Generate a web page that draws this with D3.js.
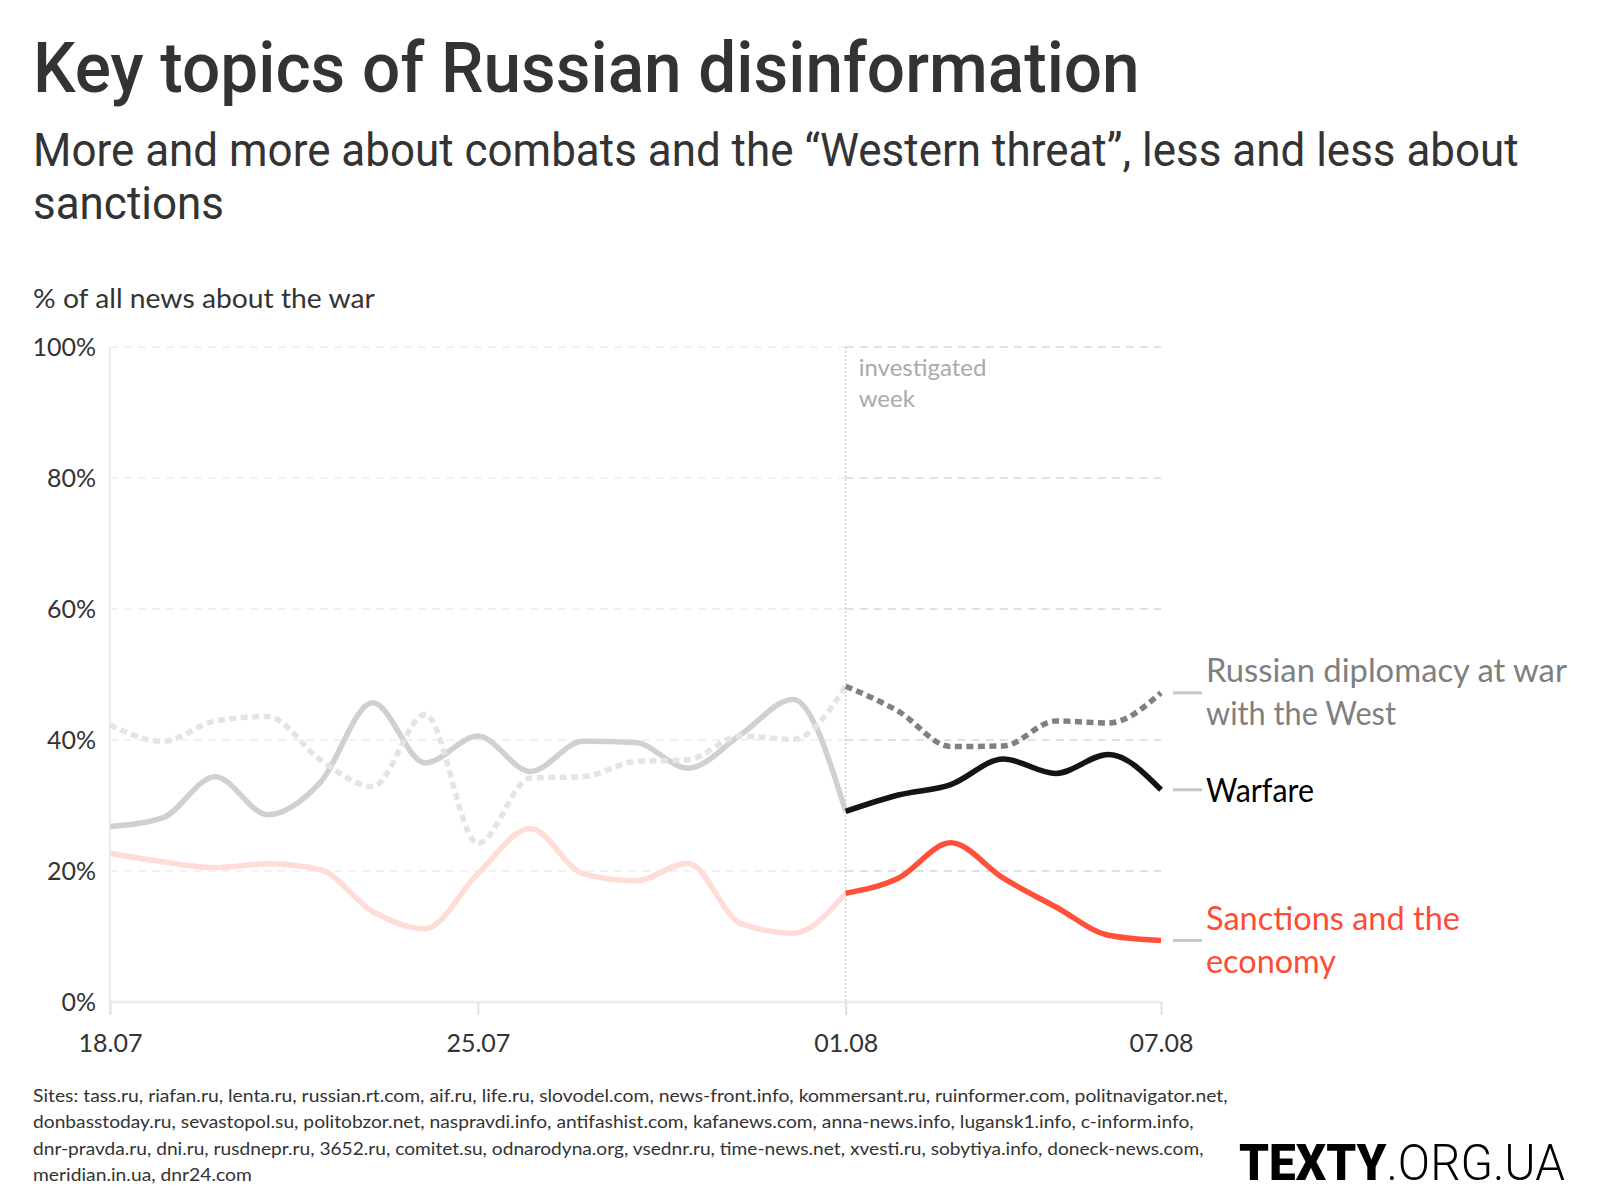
<!DOCTYPE html>
<html>
<head>
<meta charset="utf-8">
<script src="https://cdn.jsdelivr.net/npm/d3@7"></script>
<style>
  html, body { margin: 0; padding: 0; background: #fff; }
  svg { display: block; }
</style>
</head>
<body>
<svg id="chart" width="1600" height="1200"></svg>
<script>
// ---------- DATA ----------
const dates = ["18.07","19.07","20.07","21.07","22.07","23.07","24.07","25.07","26.07","27.07","28.07","29.07","30.07","31.07",
               "01.08","02.08","03.08","04.08","05.08","06.08","07.08"];
const warfare   = [26.8, 28.1, 34.4, 28.6, 33.5, 45.7, 36.5, 40.6, 35.2, 39.8, 39.6, 35.7, 40.8, 46.2, 29.1, 31.6, 33.2, 37.1, 34.9, 37.8, 32.4];
const diplomacy = [42.3, 39.8, 42.9, 43.6, 37.0, 32.9, 43.9, 24.2, 34.2, 34.4, 36.7, 37.0, 40.6, 40.1, 48.2, 44.4, 39.0, 39.1, 42.9, 42.6, 47.2];
const sanctions = [22.7, 21.4, 20.5, 21.1, 20.2, 13.8, 11.2, 19.6, 26.5, 19.6, 18.5, 21.2, 12.0, 10.5, 16.6, 18.9, 24.3, 18.9, 14.5, 10.2, 9.4];
const xTickLabels = ["18.07", "25.07", "01.08", "07.08"];
const yTickValues = [0, 20, 40, 60, 80, 100];
const investigatedStart = "01.08";
const seriesNames = {
  diplomacy: ["Russian diplomacy at war", "with the West"],
  warfare: ["Warfare"],
  sanctions: ["Sanctions and the", "economy"]
};
const titleText = "Key topics of Russian disinformation";
const subtitleLines = ["More and more about combats and the \u201cWestern threat\u201d, less and less about", "sanctions"];
const yAxisTitle = "% of all news about the war";
const sourceLines = [
  "Sites: tass.ru, riafan.ru, lenta.ru, russian.rt.com, aif.ru, life.ru, slovodel.com, news-front.info, kommersant.ru, ruinformer.com, politnavigator.net,",
  "donbasstoday.ru, sevastopol.su, politobzor.net, naspravdi.info, antifashist.com, kafanews.com, anna-news.info, lugansk1.info, c-inform.info,",
  "dnr-pravda.ru, dni.ru, rusdnepr.ru, 3652.ru, comitet.su, odnarodyna.org, vsednr.ru, time-news.net, xvesti.ru, sobytiya.info, doneck-news.com,",
  "meridian.in.ua, dnr24.com"
];

// ---------- SETUP ----------
const svg = d3.select("#chart");
const plot = { left: 110, right: 1161, top: 347, bottom: 1002 };

const x = d3.scalePoint().domain(dates).range([plot.left, plot.right]);
const y = d3.scaleLinear().domain([0, 100]).range([plot.bottom, plot.top]);
const splitX = x(investigatedStart);
const splitIdx = dates.indexOf(investigatedStart);

const sansCond = "Roboto, 'Noto Sans', sans-serif";
const sans = "Lato, 'Noto Sans', sans-serif";

// place a text at (px, py) and scale it horizontally so that it spans width w
function fitText(parent, px, py, w, attrs, content) {
  const t = parent.append("text").attr("x", 0).attr("y", 0);
  Object.entries(attrs).forEach(([k, v]) => t.attr(k, v));
  if (typeof content === "function") content(t); else t.text(content);
  const natural = t.node().getComputedTextLength();
  const k = natural > 0 ? w / natural : 1;
  t.attr("transform", `translate(${px},${py}) scale(${k},1)`);
  return t;
}

// ---------- TITLES ----------
fitText(svg, 33, 92, 1107,
  { "font-family": sansCond, "font-weight": 500, "font-size": 71, fill: "#333" }, titleText);

const subW = [1486, 191];
subtitleLines.forEach((t, i) => {
  fitText(svg, 33, 166 + i * 53, subW[i],
    { "font-family": sansCond, "font-weight": 400, "font-size": 47, fill: "#333" }, t);
});

fitText(svg, 33, 308, 342,
  { "font-family": sans, "font-size": 27, fill: "#333" }, yAxisTitle);

// ---------- GRID ----------
const g = svg.append("g");

yTickValues.filter(v => v > 0).forEach(v => {
  g.append("line").attr("x1", plot.left).attr("x2", splitX)
    .attr("y1", y(v)).attr("y2", y(v))
    .attr("stroke", "#e6e6e6").attr("stroke-width", 1.2).attr("stroke-dasharray", "8,6");
  g.append("line").attr("x1", splitX).attr("x2", plot.right)
    .attr("y1", y(v)).attr("y2", y(v))
    .attr("stroke", "#c4c4c4").attr("stroke-width", 1.2).attr("stroke-dasharray", "8,6");
});

g.append("line").attr("x1", plot.left).attr("x2", plot.left)
  .attr("y1", plot.top).attr("y2", plot.bottom + 13)
  .attr("stroke", "#ececec").attr("stroke-width", 2);
g.append("line").attr("x1", plot.left).attr("x2", plot.right)
  .attr("y1", plot.bottom).attr("y2", plot.bottom)
  .attr("stroke", "#ececec").attr("stroke-width", 2.5);

const yAxis = d3.axisLeft(y).tickValues(yTickValues).tickSize(0).tickPadding(0)
  .tickFormat(d => d + "%");
const yAxisG = svg.append("g").attr("transform", `translate(96,0)`).call(yAxis);
yAxisG.select(".domain").remove();
yAxisG.selectAll("text").attr("font-family", sans).attr("font-size", 25)
  .attr("fill", "#333").attr("dy", "0.35em");

const xAxis = d3.axisBottom(x).tickValues(xTickLabels).tickSize(13).tickPadding(19);
const xAxisG = svg.append("g").attr("transform", `translate(0,${plot.bottom})`).call(xAxis);
xAxisG.select(".domain").remove();
xAxisG.selectAll("line").attr("stroke", "#e2e2e2").attr("stroke-width", 2);
xAxisG.selectAll("text").attr("font-family", sans).attr("font-size", 25).attr("fill", "#333");

g.append("line").attr("x1", splitX).attr("x2", splitX)
  .attr("y1", plot.top).attr("y2", plot.bottom + 13)
  .attr("stroke", "#cfcfcf").attr("stroke-width", 1.5).attr("stroke-dasharray", "2,2");
["investigated", "week"].forEach((t, i) => {
  svg.append("text").attr("x", splitX + 13).attr("y", 376 + i * 31)
    .attr("font-family", sans).attr("font-size", 24).attr("fill", "#aaa").text(t);
});

// ---------- LINES ----------
const line = d3.line()
  .x(d => x(d.date))
  .y(d => y(d.value))
  .curve(d3.curveMonotoneX);

function seg(arr, from, to) {
  return dates.slice(from, to + 1).map((d, i) => ({ date: d, value: arr[from + i] }));
}

const lastIdx = dates.length - 1;
const series = [
  { data: sanctions, pre: "#ffdcd6", post: "#ff513a", dash: null },
  { data: warfare,   pre: "#d0d0d0", post: "#141414", dash: null },
  { data: diplomacy, pre: "#e4e4e4", post: "#808080", dash: "7,4.5" }
];
const lines = svg.append("g").attr("fill", "none").attr("stroke-width", 5.5);
series.forEach(s => {
  lines.append("path").attr("d", line(seg(s.data, 0, splitIdx)))
    .attr("stroke", s.pre).attr("stroke-dasharray", s.dash);
});
series.forEach(s => {
  lines.append("path").attr("d", line(seg(s.data, splitIdx, lastIdx)))
    .attr("stroke", s.post).attr("stroke-dasharray", s.dash);
});

// ---------- LABELS ----------
const labels = [
  { key: "diplomacy", value: diplomacy[lastIdx], color: "#7f7f7f", base: 682, widths: [361, 190] },
  { key: "warfare",   value: warfare[lastIdx],   color: "#000",    base: 802, widths: [108] },
  { key: "sanctions", value: sanctions[lastIdx], color: "#ff4b33", base: 930, widths: [254, 130] }
];
labels.forEach(l => {
  svg.append("line").attr("x1", 1173).attr("x2", 1202)
    .attr("y1", y(l.value)).attr("y2", y(l.value))
    .attr("stroke", "#c8c8c8").attr("stroke-width", 3);
  seriesNames[l.key].forEach((t, i) => {
    fitText(svg, 1206, l.base + i * 43, l.widths[i],
      { "font-family": sans, "font-size": 32, fill: l.color }, t);
  });
});

// ---------- FOOTER ----------
const srcW = [1196, 1161, 1171, 219];
sourceLines.forEach((t, i) => {
  fitText(svg, 33, 1102 + i * 26.3, srcW[i],
    { "font-family": sans, "font-size": 18, fill: "#333" }, t);
});

fitText(svg, 1239, 1180, 326,
  { "font-family": "Roboto, Inter, sans-serif", "font-size": 50, fill: "#000" },
  t => {
    t.append("tspan").attr("font-weight", 900).text("TEXTY");
    t.append("tspan").attr("font-weight", 300).text(".ORG.UA");
  });
</script>
</body>
</html>
